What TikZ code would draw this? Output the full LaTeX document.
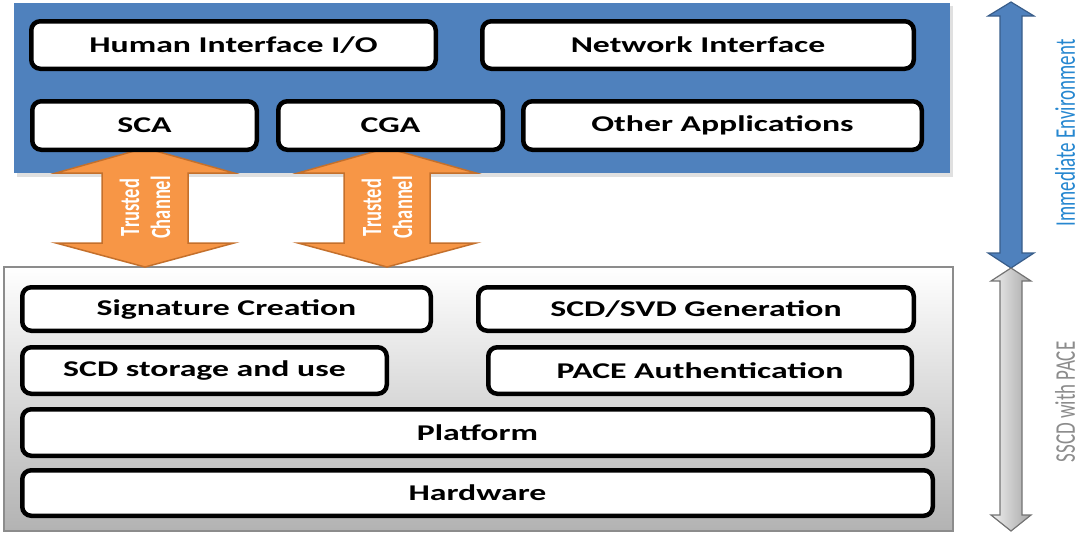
\documentclass[tikz,border=0pt]{standalone}
\usepackage{fontspec}
\setmainfont{Carlito}
\newfontfamily\boxfont{Carlito}[FakeStretch=1.5]
\newfontfamily\sidefont{Carlito}[FakeStretch=0.6667]
\usetikzlibrary{calc}
\definecolor{envblue}{RGB}{79,129,189}
\definecolor{envedge}{RGB}{56,93,138}
\definecolor{envtext}{RGB}{38,135,208}
\definecolor{chanfill}{RGB}{247,150,70}
\definecolor{chanedge}{RGB}{196,112,44}
\definecolor{tgray}{RGB}{140,140,140}

\begin{document}
\begin{tikzpicture}
    [   x = 1pt
    ,   y = -1pt
    ,   layer/.style =
        {   draw
        ,   fill = white
        ,   line width = 4.5pt
        ,   rounded corners = 9pt
        ,   inner sep = 0mm
        ,   font = \boxfont\bfseries\fontsize{22.5}{27}\selectfont
        }
    ,   channel/.style =
        {   fill = chanfill
        ,   draw = chanedge
        ,   line width = 1.5pt
        }
    ,   sidelabel/.style =
        {   rotate = 90
        ,   inner sep = 0mm
        ,   font = \sidefont\fontsize{28.5}{30}\selectfont
        }
    ]
    \useasboundingbox (0,0) rectangle (1081,533);
    % environment panel and device panel
    \fill[black!12] (17,6) rectangle (953,177);
    \fill[envblue] (14,3) rectangle (950,173);
    \shade[top color=white, bottom color=black!30, draw=tgray, line width=1.2pt]
        (4,267) rectangle (953,531);
    % trusted channels
    \foreach\cx/\nm in {145/TCA,387/TCB}
    {   \draw[channel] (\cx-89,173) -- (\cx,148) -- (\cx+89,173) -- (\cx+43,173)
            -- (\cx+43,243) -- (\cx+89,243) -- (\cx,267) -- (\cx-89,243)
            -- (\cx-43,243) -- (\cx-43,173) -- cycle;
        \node[rotate=90, align=center, text=white, inner sep=0mm,
            font=\sidefont\bfseries\fontsize{27.75}{31}\selectfont]
            (\nm) at (\cx,207.5) {Trusted\\Channel};
    }
    % boxes
    \foreach\n/\x/\y/\w/\h/\t in
    {   HIO/233.5/45/404.5/47.5/{Human Interface I/O}
    ,   NI/698/45/431.5/47.5/{Network Interface}
    ,   SCA/144.5/125.5/224.5/48.5/{SCA}
    ,   CGA/390.5/125.5/224.5/48.5/{CGA}
    ,   OA/722.5/125.5/398.5/48.5/{Other Applications}
    ,   SC/226.5/309/408.5/43.5/{Signature Creation}
    ,   GEN/696/309/435.5/43.5/{SCD/SVD Generation}
    ,   STO/204.5/370.5/364.5/46.5/{SCD storage and use}
    ,   PACE/700/370.5/423.5/46.5/{PACE Authentication}
    ,   PF/477.5/432.5/910.5/46.5/{Platform}
    ,   HW/477.5/493/910.5/45.5/{Hardware}
    }
    {   \node[layer, minimum width=\w pt, minimum height=\h pt] (\n) at (\x,\y) {\t};
    }
    % scope arrows on the right
    \draw[fill=envblue, draw=envedge, line width=1.2pt]
        (988,16) -- (1011,2) -- (1034,16) -- (1022,16) -- (1022,253)
        -- (1034,253) -- (1011,268) -- (988,253) -- (1000,253) -- (1000,16) -- cycle;
    \shade[left color=black!6, right color=black!35, draw=black!55, line width=1.2pt]
        (991,281) -- (1011,268) -- (1031,281) -- (1022,281) -- (1022,515)
        -- (1031,515) -- (1011,531) -- (991,515) -- (1000,515) -- (1000,281) -- cycle;
    \node[sidelabel, text=envtext] (IE) at (1065,133) {Immediate Environment};
    \node[sidelabel, text=tgray] (SP) at (1065,402) {SSCD with PACE};
\end{tikzpicture}
\end{document}
